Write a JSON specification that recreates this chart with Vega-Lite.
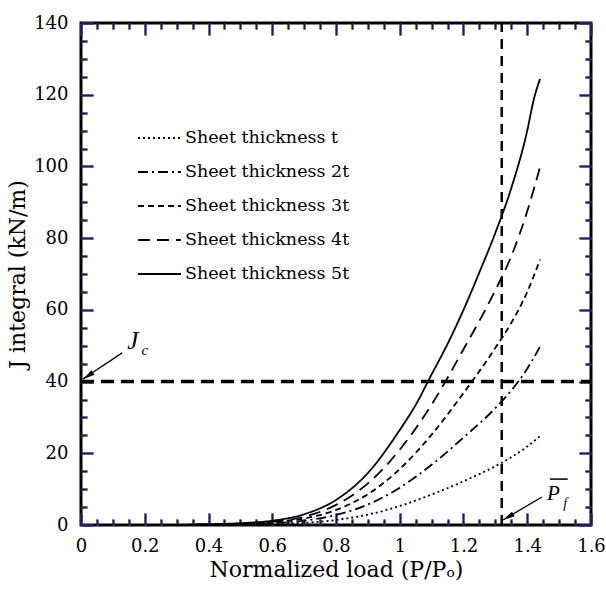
{
  "$schema": "https://vega.github.io/schema/vega-lite/v6.json",
  "width": 510,
  "height": 502,
  "autosize": "none",
  "padding": {"left": 81, "top": 23, "right": 15, "bottom": 67},
  "background": "white",
  "view": {"stroke": "black", "strokeWidth": 3},
  "config": {
    "axis": {"grid": false, "domain": false, "labelColor": "black", "titleColor": "black", "labelFlush": false, "labelOverlap": false}
  },
  "datasets": {
    "curves": [
      {"series": "Sheet thickness t", "x": 0.3, "J": 0},
      {"series": "Sheet thickness t", "x": 0.4, "J": 0.05},
      {"series": "Sheet thickness t", "x": 0.5, "J": 0.1},
      {"series": "Sheet thickness t", "x": 0.6, "J": 0.25},
      {"series": "Sheet thickness t", "x": 0.7, "J": 0.6},
      {"series": "Sheet thickness t", "x": 0.8, "J": 1.4},
      {"series": "Sheet thickness t", "x": 0.9, "J": 2.9},
      {"series": "Sheet thickness t", "x": 1.0, "J": 5.3},
      {"series": "Sheet thickness t", "x": 1.1, "J": 8.5},
      {"series": "Sheet thickness t", "x": 1.2, "J": 12.2},
      {"series": "Sheet thickness t", "x": 1.3, "J": 16.4},
      {"series": "Sheet thickness t", "x": 1.35, "J": 18.9},
      {"series": "Sheet thickness t", "x": 1.4, "J": 21.9},
      {"series": "Sheet thickness t", "x": 1.44, "J": 24.8},
      {"series": "Sheet thickness 2t", "x": 0.3, "J": 0},
      {"series": "Sheet thickness 2t", "x": 0.4, "J": 0.1},
      {"series": "Sheet thickness 2t", "x": 0.5, "J": 0.2},
      {"series": "Sheet thickness 2t", "x": 0.6, "J": 0.5},
      {"series": "Sheet thickness 2t", "x": 0.7, "J": 1.2},
      {"series": "Sheet thickness 2t", "x": 0.8, "J": 2.8},
      {"series": "Sheet thickness 2t", "x": 0.9, "J": 5.7},
      {"series": "Sheet thickness 2t", "x": 1.0, "J": 10.4},
      {"series": "Sheet thickness 2t", "x": 1.1, "J": 16.8},
      {"series": "Sheet thickness 2t", "x": 1.2, "J": 24.4},
      {"series": "Sheet thickness 2t", "x": 1.3, "J": 32.6},
      {"series": "Sheet thickness 2t", "x": 1.35, "J": 37.5},
      {"series": "Sheet thickness 2t", "x": 1.4, "J": 43.6},
      {"series": "Sheet thickness 2t", "x": 1.44, "J": 49.7},
      {"series": "Sheet thickness 3t", "x": 0.3, "J": 0},
      {"series": "Sheet thickness 3t", "x": 0.4, "J": 0.1},
      {"series": "Sheet thickness 3t", "x": 0.5, "J": 0.3},
      {"series": "Sheet thickness 3t", "x": 0.6, "J": 0.7},
      {"series": "Sheet thickness 3t", "x": 0.7, "J": 1.8},
      {"series": "Sheet thickness 3t", "x": 0.8, "J": 4.2},
      {"series": "Sheet thickness 3t", "x": 0.9, "J": 8.6},
      {"series": "Sheet thickness 3t", "x": 1.0, "J": 15.6},
      {"series": "Sheet thickness 3t", "x": 1.1, "J": 25.2},
      {"series": "Sheet thickness 3t", "x": 1.2, "J": 36.8},
      {"series": "Sheet thickness 3t", "x": 1.3, "J": 49.4},
      {"series": "Sheet thickness 3t", "x": 1.35, "J": 56.4},
      {"series": "Sheet thickness 3t", "x": 1.4, "J": 65},
      {"series": "Sheet thickness 3t", "x": 1.44, "J": 74},
      {"series": "Sheet thickness 4t", "x": 0.3, "J": 0},
      {"series": "Sheet thickness 4t", "x": 0.4, "J": 0.15},
      {"series": "Sheet thickness 4t", "x": 0.5, "J": 0.4},
      {"series": "Sheet thickness 4t", "x": 0.6, "J": 0.9},
      {"series": "Sheet thickness 4t", "x": 0.7, "J": 2.3},
      {"series": "Sheet thickness 4t", "x": 0.8, "J": 5.6},
      {"series": "Sheet thickness 4t", "x": 0.9, "J": 11.6},
      {"series": "Sheet thickness 4t", "x": 1.0, "J": 21},
      {"series": "Sheet thickness 4t", "x": 1.1, "J": 33.6},
      {"series": "Sheet thickness 4t", "x": 1.2, "J": 49},
      {"series": "Sheet thickness 4t", "x": 1.3, "J": 65.5},
      {"series": "Sheet thickness 4t", "x": 1.35, "J": 75},
      {"series": "Sheet thickness 4t", "x": 1.4, "J": 87.5},
      {"series": "Sheet thickness 4t", "x": 1.44, "J": 99.8},
      {"series": "Sheet thickness 5t", "x": 0.3, "J": 0},
      {"series": "Sheet thickness 5t", "x": 0.4, "J": 0.2},
      {"series": "Sheet thickness 5t", "x": 0.5, "J": 0.5},
      {"series": "Sheet thickness 5t", "x": 0.6, "J": 1.2},
      {"series": "Sheet thickness 5t", "x": 0.7, "J": 3.0},
      {"series": "Sheet thickness 5t", "x": 0.8, "J": 7.0},
      {"series": "Sheet thickness 5t", "x": 0.9, "J": 14.5},
      {"series": "Sheet thickness 5t", "x": 1.0, "J": 26.5},
      {"series": "Sheet thickness 5t", "x": 1.05, "J": 33.5},
      {"series": "Sheet thickness 5t", "x": 1.1, "J": 42},
      {"series": "Sheet thickness 5t", "x": 1.15, "J": 50.5},
      {"series": "Sheet thickness 5t", "x": 1.2, "J": 60},
      {"series": "Sheet thickness 5t", "x": 1.25, "J": 70.5},
      {"series": "Sheet thickness 5t", "x": 1.3, "J": 81.5},
      {"series": "Sheet thickness 5t", "x": 1.35, "J": 94},
      {"series": "Sheet thickness 5t", "x": 1.4, "J": 110},
      {"series": "Sheet thickness 5t", "x": 1.42, "J": 118.5},
      {"series": "Sheet thickness 5t", "x": 1.44, "J": 124.4}
    ],
    "hline": [{"x0": 0, "x1": 1.6, "J": 40}],
    "vline": [{"x": 1.32, "J0": 0, "J1": 140}],
    "arrows": [
      {"x0": 0.129, "J0": 48, "x1": 0.006, "J1": 40.7},
      {"x0": 1.446, "J0": 7.8, "x1": 1.324, "J1": 1.4}
    ],
    "headJ": [{"x": 0.022, "J": 41.6}],
    "headP": [{"x": 1.34, "J": 2.23}],
    "labJ": [{"x": 0.145, "J": 49, "t": "J"}],
    "labc": [{"x": 0.19, "J": 47.5, "t": "c"}],
    "labP": [{"x": 1.462, "J": 7.0, "t": "P"}],
    "labf": [{"x": 1.513, "J": 4.7, "t": "f"}],
    "overline": [{"x0": 1.471, "x1": 1.527, "J": 12.8}]
  },
  "resolve": {"axis": {"x": "independent", "y": "independent"}},
  "layer": [
    {
      "data": {"name": "curves"},
      "mark": {"type": "line", "color": "black", "strokeWidth": 1.8, "interpolate": "monotone"},
      "encoding": {
        "x": {"field": "x", "type": "quantitative", "scale": {"domain": [0, 1.6], "nice": false},
          "axis": {"orient": "bottom", "values": [0, 0.2, 0.4, 0.6, 0.8, 1, 1.2, 1.4, 1.6], "format": ".1~f", "ticks": false, "labelPadding": 12, "labelFont": "DejaVu Serif", "labelFontSize": 18, "title": "Normalized load (P/Pₒ)", "titleFont": "DejaVu Serif", "titleFontSize": 22, "titleFontWeight": "normal", "titlePadding": 4}},
        "y": {"field": "J", "type": "quantitative", "scale": {"domain": [0, 140], "nice": false},
          "axis": {"orient": "left", "values": [0, 20, 40, 60, 80, 100, 120, 140], "ticks": false, "labelPadding": 13, "labelFont": "DejaVu Serif", "labelFontSize": 18, "title": "J integral (kN/m)", "titleFont": "DejaVu Serif", "titleFontSize": 22, "titleFontWeight": "normal", "titlePadding": 4}},
        "strokeDash": {"field": "series", "type": "nominal",
          "scale": {"domain": ["Sheet thickness t", "Sheet thickness 2t", "Sheet thickness 3t", "Sheet thickness 4t", "Sheet thickness 5t"],
                    "range": [[2, 3], [10, 4, 2, 4], [6, 4], [12, 7], [1, 0]]},
          "legend": {"title": null, "orient": "none", "legendX": 56, "legendY": 100, "padding": 0, "symbolType": "stroke", "symbolSize": 1849, "symbolStrokeColor": "black", "symbolStrokeWidth": 1.8, "clipHeight": 30, "rowPadding": 4, "labelOffset": 3, "labelFont": "DejaVu Serif", "labelFontSize": 17.5, "labelColor": "black", "labelLimit": 300}}
      }
    },
    {
      "data": {"name": "hline"},
      "mark": {"type": "rule", "color": "black", "strokeWidth": 3.5, "strokeDash": [13, 7]},
      "encoding": {
        "x": {"field": "x0", "type": "quantitative", "scale": {"domain": [0, 1.6], "nice": false},
          "axis": {"orient": "bottom", "values": [0, 0.2, 0.4, 0.6, 0.8, 1, 1.2, 1.4, 1.6], "labels": false, "tickColor": "dimgray", "tickWidth": 2, "tickSize": -12, "title": null}},
        "x2": {"field": "x1"},
        "y": {"field": "J", "type": "quantitative", "scale": {"domain": [0, 140], "nice": false},
          "axis": {"orient": "left", "values": [0, 20, 40, 60, 80, 100, 120, 140], "labels": false, "tickColor": "dimgray", "tickWidth": 2, "tickSize": -12, "title": null}}
      }
    },
    {
      "data": {"name": "vline"},
      "mark": {"type": "rule", "color": "black", "strokeWidth": 2.5, "strokeDash": [10, 7]},
      "encoding": {
        "x": {"field": "x", "type": "quantitative", "scale": {"domain": [0, 1.6], "nice": false},
          "axis": {"orient": "bottom", "values": [0.05, 0.1, 0.15, 0.25, 0.3, 0.35, 0.45, 0.5, 0.55, 0.65, 0.7, 0.75, 0.85, 0.9, 0.95, 1.05, 1.1, 1.15, 1.25, 1.3, 1.35, 1.45, 1.5, 1.55], "labels": false, "tickColor": "dimgray", "tickWidth": 2, "tickSize": -6, "title": null}},
        "y": {"field": "J0", "type": "quantitative", "scale": {"domain": [0, 140], "nice": false},
          "axis": {"orient": "left", "values": [5, 10, 15, 25, 30, 35, 45, 50, 55, 65, 70, 75, 85, 90, 95, 105, 110, 115, 125, 130, 135], "labels": false, "tickColor": "dimgray", "tickWidth": 2, "tickSize": -6, "title": null}},
        "y2": {"field": "J1"}
      }
    },
    {
      "data": {"name": "arrows"},
      "mark": {"type": "rule", "color": "black", "strokeWidth": 1.3},
      "encoding": {
        "x": {"field": "x0", "type": "quantitative", "scale": {"domain": [0, 1.6], "nice": false},
          "axis": {"orient": "top", "values": [0, 0.2, 0.4, 0.6, 0.8, 1, 1.2, 1.4, 1.6], "labels": false, "tickColor": "dimgray", "tickWidth": 2, "tickSize": -12, "title": null}},
        "x2": {"field": "x1"},
        "y": {"field": "J0", "type": "quantitative", "scale": {"domain": [0, 140], "nice": false},
          "axis": {"orient": "right", "values": [0, 20, 40, 60, 80, 100, 120, 140], "labels": false, "tickColor": "dimgray", "tickWidth": 2, "tickSize": -12, "title": null}},
        "y2": {"field": "J1"}
      }
    },
    {
      "data": {"name": "headJ"},
      "mark": {"type": "point", "shape": "M0,-1L0.45,1L-0.45,1Z", "filled": true, "color": "black", "opacity": 1, "size": 144, "angle": 236},
      "encoding": {
        "x": {"field": "x", "type": "quantitative", "scale": {"domain": [0, 1.6], "nice": false},
          "axis": {"orient": "top", "values": [0.05, 0.1, 0.15, 0.25, 0.3, 0.35, 0.45, 0.5, 0.55, 0.65, 0.7, 0.75, 0.85, 0.9, 0.95, 1.05, 1.1, 1.15, 1.25, 1.3, 1.35, 1.45, 1.5, 1.55], "labels": false, "tickColor": "dimgray", "tickWidth": 2, "tickSize": -6, "title": null}},
        "y": {"field": "J", "type": "quantitative", "scale": {"domain": [0, 140], "nice": false},
          "axis": {"orient": "right", "values": [5, 10, 15, 25, 30, 35, 45, 50, 55, 65, 70, 75, 85, 90, 95, 105, 110, 115, 125, 130, 135], "labels": false, "tickColor": "dimgray", "tickWidth": 2, "tickSize": -6, "title": null}}
      }
    },
    {
      "data": {"name": "headP"},
      "mark": {"type": "point", "shape": "M0,-1L0.45,1L-0.45,1Z", "filled": true, "color": "black", "opacity": 1, "size": 144, "angle": 240},
      "encoding": {
        "x": {"field": "x", "type": "quantitative", "scale": {"domain": [0, 1.6], "nice": false},
          "axis": {"orient": "bottom", "values": [0, 0.2, 0.4, 0.6, 0.8, 1, 1.2, 1.4, 1.6], "labels": false, "tickColor": "midnightblue", "tickWidth": 2, "tickSize": -12, "title": null}},
        "y": {"field": "J", "type": "quantitative", "scale": {"domain": [0, 140], "nice": false},
          "axis": {"orient": "left", "values": [0, 20, 40, 60, 80, 100, 120, 140], "labels": false, "tickColor": "midnightblue", "tickWidth": 2, "tickSize": -12, "title": null}}
      }
    },
    {
      "data": {"name": "labJ"},
      "mark": {"type": "text", "font": "Liberation Serif", "fontStyle": "italic", "fontSize": 25, "align": "left", "baseline": "alphabetic", "color": "black"},
      "encoding": {
        "x": {"field": "x", "type": "quantitative", "scale": {"domain": [0, 1.6], "nice": false},
          "axis": {"orient": "bottom", "values": [0.05, 0.1, 0.15, 0.25, 0.3, 0.35, 0.45, 0.5, 0.55, 0.65, 0.7, 0.75, 0.85, 0.9, 0.95, 1.05, 1.1, 1.15, 1.25, 1.3, 1.35, 1.45, 1.5, 1.55], "labels": false, "tickColor": "midnightblue", "tickWidth": 2, "tickSize": -6, "title": null}},
        "y": {"field": "J", "type": "quantitative", "scale": {"domain": [0, 140], "nice": false},
          "axis": {"orient": "left", "values": [5, 10, 15, 25, 30, 35, 45, 50, 55, 65, 70, 75, 85, 90, 95, 105, 110, 115, 125, 130, 135], "labels": false, "tickColor": "midnightblue", "tickWidth": 2, "tickSize": -6, "title": null}},
        "text": {"field": "t"}
      }
    },
    {
      "data": {"name": "labc"},
      "mark": {"type": "text", "font": "Liberation Serif", "fontStyle": "italic", "fontSize": 15, "align": "left", "baseline": "alphabetic", "color": "black"},
      "encoding": {
        "x": {"field": "x", "type": "quantitative", "scale": {"domain": [0, 1.6], "nice": false},
          "axis": {"orient": "top", "values": [0, 0.2, 0.4, 0.6, 0.8, 1, 1.2, 1.4, 1.6], "labels": false, "tickColor": "midnightblue", "tickWidth": 2, "tickSize": -12, "title": null}},
        "y": {"field": "J", "type": "quantitative", "scale": {"domain": [0, 140], "nice": false},
          "axis": {"orient": "right", "values": [0, 20, 40, 60, 80, 100, 120, 140], "labels": false, "tickColor": "midnightblue", "tickWidth": 2, "tickSize": -12, "title": null}},
        "text": {"field": "t"}
      }
    },
    {
      "data": {"name": "labP"},
      "mark": {"type": "text", "font": "Liberation Serif", "fontStyle": "italic", "fontSize": 21, "align": "left", "baseline": "alphabetic", "color": "black"},
      "encoding": {
        "x": {"field": "x", "type": "quantitative", "scale": {"domain": [0, 1.6], "nice": false},
          "axis": {"orient": "top", "values": [0.05, 0.1, 0.15, 0.25, 0.3, 0.35, 0.45, 0.5, 0.55, 0.65, 0.7, 0.75, 0.85, 0.9, 0.95, 1.05, 1.1, 1.15, 1.25, 1.3, 1.35, 1.45, 1.5, 1.55], "labels": false, "tickColor": "midnightblue", "tickWidth": 2, "tickSize": -6, "title": null}},
        "y": {"field": "J", "type": "quantitative", "scale": {"domain": [0, 140], "nice": false},
          "axis": {"orient": "right", "values": [5, 10, 15, 25, 30, 35, 45, 50, 55, 65, 70, 75, 85, 90, 95, 105, 110, 115, 125, 130, 135], "labels": false, "tickColor": "midnightblue", "tickWidth": 2, "tickSize": -6, "title": null}},
        "text": {"field": "t"}
      }
    },
    {
      "data": {"name": "labf"},
      "mark": {"type": "text", "font": "Liberation Serif", "fontStyle": "italic", "fontSize": 14, "align": "left", "baseline": "alphabetic", "color": "black"},
      "encoding": {
        "x": {"field": "x", "type": "quantitative", "scale": {"domain": [0, 1.6], "nice": false}, "axis": null},
        "y": {"field": "J", "type": "quantitative", "scale": {"domain": [0, 140], "nice": false}, "axis": null},
        "text": {"field": "t"}
      }
    },
    {
      "data": {"name": "overline"},
      "mark": {"type": "rule", "color": "black", "strokeWidth": 1.5},
      "encoding": {
        "x": {"field": "x0", "type": "quantitative", "scale": {"domain": [0, 1.6], "nice": false}, "axis": null},
        "x2": {"field": "x1"},
        "y": {"field": "J", "type": "quantitative", "scale": {"domain": [0, 140], "nice": false}, "axis": null}
      }
    }
  ]
}
